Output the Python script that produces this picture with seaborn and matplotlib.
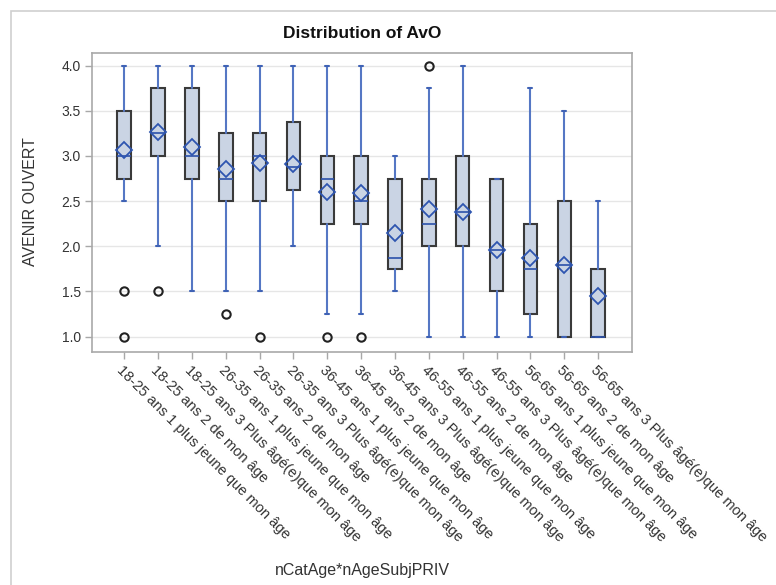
import matplotlib
matplotlib.use("Agg")
import matplotlib.pyplot as plt
import seaborn as sns
from matplotlib.patches import Rectangle

categories = [
    "18-25 ans 1 plus jeune que mon âge",
    "18-25 ans 2 de mon âge",
    "18-25 ans 3 Plus âgé(e)que mon âge",
    "26-35 ans 1 plus jeune que mon âge",
    "26-35 ans 2 de mon âge",
    "26-35 ans 3 Plus âgé(e)que mon âge",
    "36-45 ans 1 plus jeune que mon âge",
    "36-45 ans 2 de mon âge",
    "36-45 ans 3 Plus âgé(e)que mon âge",
    "46-55 ans 1 plus jeune que mon âge",
    "46-55 ans 2 de mon âge",
    "46-55 ans 3 Plus âgé(e)que mon âge",
    "56-65 ans 1 plus jeune que mon âge",
    "56-65 ans 2 de mon âge",
    "56-65 ans 3 Plus âgé(e)que mon âge",
]
whisker_low = [2.5, 2.0, 1.5, 1.5, 1.5, 2.0, 1.25, 1.25, 1.5, 1.0, 1.0, 1.0, 1.0, 1.0, 1.0]
q1 = [2.75, 3.0, 2.75, 2.5, 2.5, 2.625, 2.25, 2.25, 1.75, 2.0, 2.0, 1.5, 1.25, 1.0, 1.0]
median = [3.0, 3.25, 3.0, 2.75, 3.0, 2.875, 2.75, 2.5, 1.875, 2.25, 2.375, 1.96, 1.75, 1.79, 1.0]
q3 = [3.5, 3.75, 3.75, 3.25, 3.25, 3.375, 3.0, 3.0, 2.75, 2.75, 3.0, 2.75, 2.25, 2.5, 1.75]
whisker_high = [4.0, 4.0, 4.0, 4.0, 4.0, 4.0, 4.0, 4.0, 3.0, 3.75, 4.0, 2.75, 3.75, 3.5, 2.5]
means = [3.07, 3.26, 3.10, 2.86, 2.92, 2.91, 2.60, 2.59, 2.15, 2.41, 2.38, 1.96, 1.87, 1.79, 1.45]
outliers = [[1.5, 1.0], [1.5], [], [1.25], [1.0], [], [1.0], [1.0], [], [4.0], [], [], [], [], []]
yticks = [1.0, 1.5, 2.0, 2.5, 3.0, 3.5, 4.0]

sns.set_theme(style="white")
plt.rcParams["font.family"] = ["Liberation Sans", "DejaVu Sans"]

fig = plt.figure(figsize=(7.76, 5.85), dpi=100)
W, H = 776, 585
ax = fig.add_axes([92 / W, 1 - 352 / H, (632 - 92) / W, (352 - 53) / H])

stats = []
for i, c in enumerate(categories):
    stats.append(dict(label=c, whislo=whisker_low[i], q1=q1[i], med=median[i],
                      q3=q3[i], whishi=whisker_high[i], mean=means[i], fliers=outliers[i]))

ax.bxp(stats, positions=list(range(len(categories))), widths=0.4, patch_artist=True,
       showmeans=True, meanline=False,
       boxprops=dict(facecolor="#CAD4E4", edgecolor="#3a3a3a", linewidth=1.5),
       whiskerprops=dict(color="#5577C4", linewidth=1.5),
       capprops=dict(color="#3F62B5", linewidth=1.5),
       capwidths=0.12,
       medianprops=dict(color="#2B50AA", linewidth=1.2),
       meanprops=dict(marker="D", markersize=8, markerfacecolor="none",
                      markeredgecolor="#2E55B0", markeredgewidth=1.3),
       flierprops=dict(marker="o", markersize=6, markerfacecolor="none",
                       markeredgecolor="#222222", markeredgewidth=1.5))

ax.set_xlim(-0.95, 15.0)
ax.set_ylim(0.83, 4.14)
ax.set_yticks(yticks)
ax.set_yticklabels([f"{v:.1f}" for v in yticks], fontsize=10, color="#333333")
ax.set_xticks(list(range(len(categories))))
ax.set_xticklabels(categories, rotation=-45, ha="left", va="top",
                   rotation_mode="anchor", fontsize=10.5, color="#333333")
ax.tick_params(axis="both", which="both", length=5, width=1, color="#a8a8a8",
               bottom=True, left=True, pad=3)
ax.yaxis.grid(True, color="#e6e6e6", linewidth=1)
ax.set_axisbelow(True)
for s in ax.spines.values():
    s.set_color("#a9a9a9")
    s.set_linewidth(1.2)

ax.set_ylabel("")
fig.text(31 / W, 1 - 202 / H, "AVENIR OUVERT", rotation=90, ha="center", va="center",
         fontsize=11.5, color="#333333")
fig.text(362 / W, 1 - 571 / H, "nCatAge*nAgeSubjPRIV", ha="center", va="center",
         fontsize=11.5, color="#333333")
fig.text(362 / W, 1 - 34 / H, "Distribution of AvO", ha="center", va="center",
         fontsize=12.5, fontweight="bold", color="#111111")

fig.patches.append(Rectangle((11 / W, -0.1), 1.2, 1 - 11 / H + 0.1,
                             transform=fig.transFigure, fill=False,
                             edgecolor="#cfcfcf", linewidth=1.2))

fig.savefig("out.png", dpi=100)
